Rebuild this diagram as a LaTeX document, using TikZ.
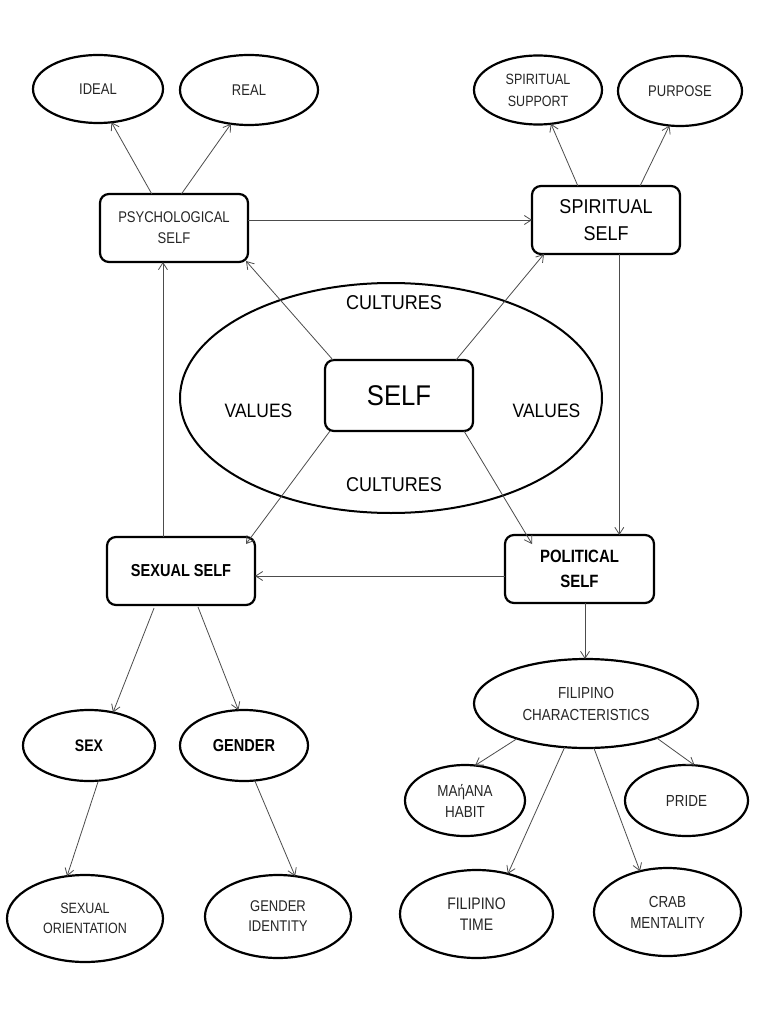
\documentclass[tikz,border=0pt]{standalone}
\usepackage{fontspec}
\setmainfont[FakeStretch=0.84]{Liberation Sans}
\newfontfamily\bigf[FakeStretch=0.9]{Liberation Sans}
\usetikzlibrary{shapes.geometric,arrows.meta,calc}
\newcommand{\fz}[2]{\fontsize{#1}{#2}\selectfont}
\begin{document}
\begin{tikzpicture}[x=1pt,y=-1pt,
  oval/.style={ellipse, draw, line width=2.2pt, inner sep=0pt, outer sep=0pt, align=center, text=black!85},
  box/.style={rectangle, rounded corners=9pt, draw, line width=2.2pt, minimum width=148pt, minimum height=68pt, inner sep=0pt, outer sep=0pt, align=center},
  arr/.style={draw=black!70, line width=0.8pt, -{Straight Barb[length=7pt,width=9pt]}},
  lbl/.style={inner sep=0pt, text=black}]
\fill[white] (0,0) rectangle (768,1024);
\useasboundingbox (0,0) rectangle (768,1024);

% top left
\node[oval, minimum width=130pt, minimum height=68pt, font=\fz{15.5}{21}] (ideal) at (98,89) {IDEAL};
\node[oval, minimum width=138pt, minimum height=70pt, font=\fz{15.5}{21}] (real) at (249,90) {REAL};
\node[box, font=\fz{15.5}{21}, text=black!85] (psych) at (174,228) {PSYCHOLOGICAL\\SELF};

% top right
\node[oval, minimum width=128pt, minimum height=69pt, font=\fz{14.9}{22}] (support) at (538,90) {SPIRITUAL\\SUPPORT};
\node[oval, minimum width=124pt, minimum height=70pt, font=\fz{15.5}{21}] (purpose) at (680,91) {PURPOSE};
\node[box, font=\bigf\fz{20}{27}] (spiritual) at (606,220) {SPIRITUAL\\SELF};

% centre
\node[ellipse, draw, line width=2pt, minimum width=422pt, minimum height=230pt, inner sep=0pt, outer sep=0pt] (bigell) at (391,398) {};
\node[box, minimum height=71pt, font=\bigf\fz{28.5}{32}] (self) at (399,395.5) {SELF};
\node[lbl, font=\bigf\fz{20}{22}] (cultop) at (394,303) {CULTURES};
\node[lbl, font=\bigf\fz{20}{22}] (culbot) at (394,484.5) {CULTURES};
\node[lbl, font=\bigf\fz{19.4}{22}] (valleft) at (258.5,410.5) {VALUES};
\node[lbl, font=\bigf\fz{19.4}{22}] (valright) at (546.5,410.5) {VALUES};

% middle row
\node[box, font=\bfseries\fz{17.3}{20}] (sexual) at (181,571) {SEXUAL SELF};
\node[box, minimum width=149pt, font=\bfseries\fz{17.8}{24.5}] (political) at (579.5,569) {POLITICAL\\SELF};

% bottom left
\node[oval, minimum width=132pt, minimum height=71pt, font=\bfseries\fz{16.7}{20}, text=black] (sex) at (89,745.5) {SEX};
\node[oval, minimum width=128pt, minimum height=71pt, font=\bfseries\fz{17.3}{20}, text=black] (gender) at (244,745.5) {GENDER};
\node[oval, minimum width=156pt, minimum height=87pt, font=\fz{14.9}{20}] (orient) at (85,918.5) {SEXUAL\\ORIENTATION};
\node[oval, minimum width=146pt, minimum height=83pt, font=\fz{15.5}{20}] (identity) at (278,916.5) {GENDER\\IDENTITY};

% bottom right
\node[oval, minimum width=224pt, minimum height=89pt, font=\fz{16}{22}] (char) at (586,703.5) {FILIPINO\\CHARACTERISTICS};
\node[oval, minimum width=120pt, minimum height=71pt, font=\fz{16}{21}] (manana) at (465,800.5) {MAήANA\\HABIT};
\node[oval, minimum width=123pt, minimum height=71pt, font=\fz{16}{21}] (pride) at (686.5,800.5) {PRIDE};
\node[oval, minimum width=153pt, minimum height=88pt, font=\fz{16.7}{21}] (ftime) at (476.5,914) {FILIPINO\\TIME};
\node[oval, minimum width=147pt, minimum height=88pt, font=\fz{16}{21}] (crab) at (667.5,912) {CRAB\\MENTALITY};

% connectors: psychological self
\draw[arr] ($(psych.north west)!0.35!(psych.north east)$) -- (ideal.-68);
\draw[arr] ($(psych.north west)!0.55!(psych.north east)$) -- (real.-118);
\draw[arr] (psych.east |- spiritual.west) -- (spiritual.west);

% spiritual self
\draw[arr] ($(spiritual.north west)!0.31!(spiritual.north east)$) -- (support.-69);
\draw[arr] ($(spiritual.north west)!0.73!(spiritual.north east)$) -- (purpose.-107);
\coordinate (sp) at ($(spiritual.south west)!0.59!(spiritual.south east)$);
\draw[arr] (sp) -- (sp |- political.north);

% from SELF
\draw[arr] ($(self.north west)+(8,0)$) -- ($(psych.south east)+(-2,-1)$);
\draw[arr] ($(self.north east)+(-17,0)$) -- ($(spiritual.south west)+(12,0)$);
\draw[arr] ($(self.south west)+(5,0)$) -- ($(sexual.north east)+(-9,7)$);
\draw[arr] ($(self.south east)+(-9,0)$) -- ($(political.north west)+(27,9)$);

% political / sexual
\coordinate (ps) at ($(political.west)+(0,7)$);
\draw[arr] (ps) -- (ps -| sexual.east);
\coordinate (sx) at ($(sexual.north west)!0.378!(sexual.north east)$);
\draw[arr] (sx) -- (sx |- psych.south);

% sexual self children
\draw[arr] ($(sexual.south west)!0.318!(sexual.south east)+(0,3)$) -- (sex.54);
\draw[arr] ($(sexual.south west)!0.615!(sexual.south east)+(0,2)$) -- (gender.99);
\draw[arr] (sex.-75) -- (orient.113);
\draw[arr] (gender.-73) -- (identity.67);

% political self children
\coordinate (pc) at ($(political.south west)!0.537!(political.south east)$);
\draw[arr] (pc) -- (pc |- char.north);
\draw[arr] (char.-153) -- (manana.74);
\draw[arr] (char.-116) -- (ftime.52);
\draw[arr] (char.-80) -- (crab.124);
\draw[arr] (char.-26) -- (pride.77);
\end{tikzpicture}
\end{document}
